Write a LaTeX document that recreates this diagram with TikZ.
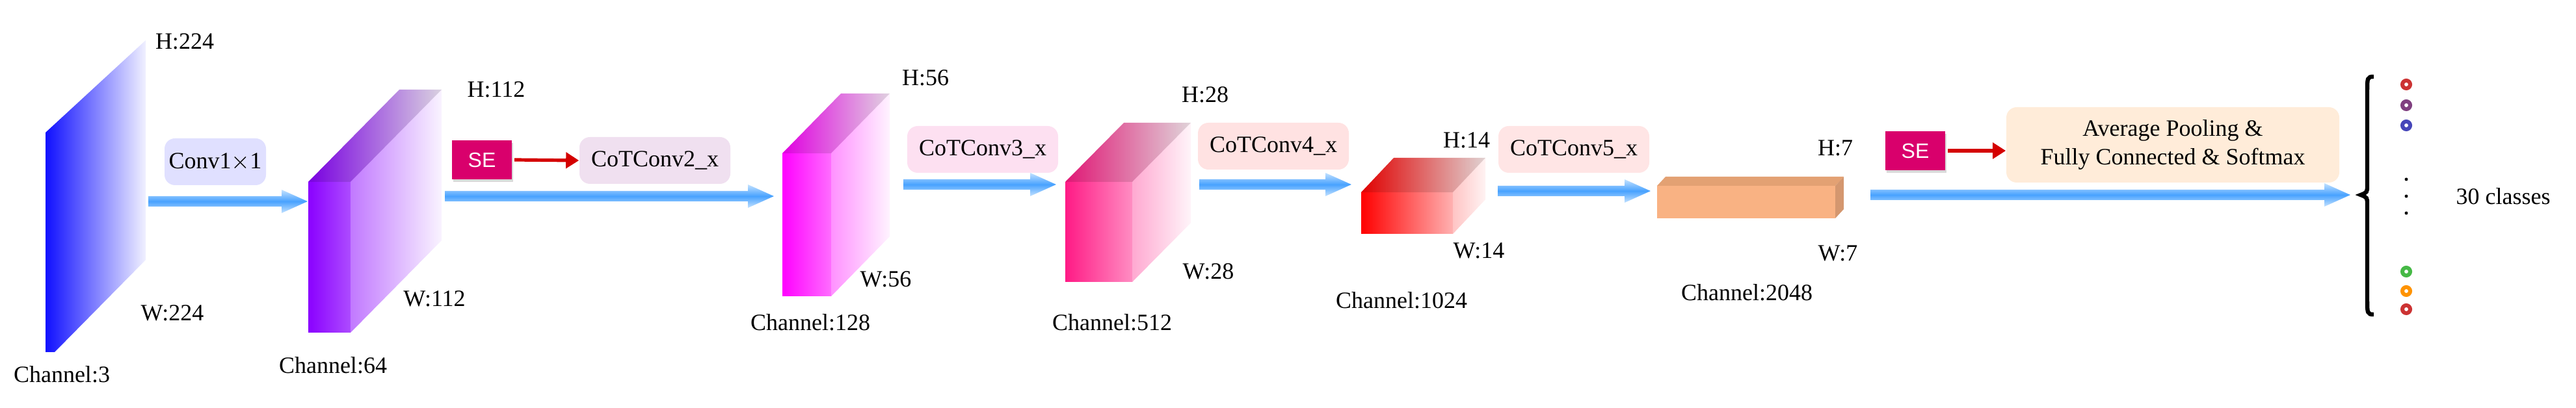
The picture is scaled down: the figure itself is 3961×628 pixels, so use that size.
\documentclass[tikz,border=0pt]{standalone}
\usepackage{fontspec}
\setmainfont{Liberation Serif}
\newfontfamily\myserif{Liberation Serif}
\newfontfamily\sefont{Liberation Sans}
\usetikzlibrary{calc,shadows,arrows.meta}
\definecolor{cblue}{HTML}{1010FF}
\definecolor{cpurple}{HTML}{8A00FF}
\definecolor{cmag}{HTML}{FF00FF}
\definecolor{cpink}{HTML}{FF1A85}
\definecolor{cred}{HTML}{FF0000}
\definecolor{corange}{HTML}{F9B283}
\definecolor{corangetop}{HTML}{E3A173}
\definecolor{arrlight}{HTML}{C4E2FF}
\definecolor{arrmid}{HTML}{48A2FF}
\definecolor{sepink}{HTML}{D9006C}
\definecolor{redarr}{HTML}{D40000}
\newcommand{\mycuboid}[7]{%
  \shade[left color=#7, right color=#7!6!white] (#1,#2) -- ++(#5,-#6) -- ($(#3,#2)+(#5,-#6)$) -- ($(#3,#4)+(#5,-#6)$) -- (#3,#4) -- (#1,#4) -- cycle;
  \fill[black, opacity=0.12] (#1,#2) -- ++(#5,-#6) -- ($(#3,#2)+(#5,-#6)$) -- (#3,#2) -- cycle;
  \fill[white, opacity=0.25] (#3,#2) -- ++(#5,-#6) -- ($(#3,#4)+(#5,-#6)$) -- (#3,#4) -- cycle;
}
\newcommand{\bluearrow}[2]{%
  \shade[top color=arrlight, bottom color=arrlight, middle color=arrmid]
    ($(#1)+(0,-8)$) -- ($(#2)+(-40,-8)$) -- ($(#2)+(-40,-18)$) -- (#2) --
    ($(#2)+(-40,18)$) -- ($(#2)+(-40,8)$) -- ($(#1)+(0,8)$) -- cycle;
}
\tikzset{
  lbl/.style={font=\myserif\fontsize{9}{11}\selectfont, inner sep=0pt},
  opbox/.style={lbl, rounded corners=4pt, minimum height=18pt, align=center},
  sebox/.style={font=\sefont\fontsize{8}{10}\selectfont, text=white, fill=sepink, minimum width=23pt, minimum height=15pt, inner sep=0pt, drop shadow={opacity=0.3, shadow xshift=0.5pt, shadow yshift=-1pt}},
  redarrow/.style={draw=redarr, line width=1.3pt, -{Triangle[length=5pt,width=6pt]}},
}
\begin{document}
\begin{tikzpicture}[x=0.25pt,y=-0.25pt]
\useasboundingbox (0,0) rectangle (3961,628);
% blocks
\shade[left color=cblue, right color=cblue!6!white] (70,204) -- (224,62) -- (224,400) -- (84,542) -- (70,542) -- cycle;
\mycuboid{474}{280}{539}{512}{140}{142}{cpurple}
\mycuboid{1203}{236}{1278}{456}{90}{92}{cmag}
\mycuboid{1638}{280}{1741}{434}{90}{91}{cpink}
\mycuboid{2093}{296}{2234}{360}{50}{53}{cred}
\fill[corange] (2548,286) rectangle (2822,336);
\fill[corangetop] (2548,286) -- (2561,272) -- (2835,272) -- (2822,286) -- cycle;
\fill[corange!85!black] (2822,286) -- (2835,272) -- (2835,322) -- (2822,336) -- cycle;
% labels
\node[lbl] (h1) at (284,64) {H:224};
\node[lbl] (w1) at (265,482) {W:224};
\node[lbl] (c1) at (95,576) {Channel:3};
\node[lbl] (h2) at (763,138) {H:112};
\node[lbl] (w2) at (668,460) {W:112};
\node[lbl] (c2) at (512,562) {Channel:64};
\node[lbl] (h3) at (1423,120) {H:56};
\node[lbl] (w3) at (1362,430) {W:56};
\node[lbl] (c3) at (1246,496) {Channel:128};
\node[lbl] (h4) at (1853,146) {H:28};
\node[lbl] (w4) at (1858,418) {W:28};
\node[lbl] (c4) at (1710,496) {Channel:512};
\node[lbl] (h5) at (2255,216) {H:14};
\node[lbl] (w5) at (2274,386) {W:14};
\node[lbl] (c5) at (2155,462) {Channel:1024};
\node[lbl] (h6) at (2822,228) {H:7};
\node[lbl] (w6) at (2826,390) {W:7};
\node[lbl] (c6) at (2686,450) {Channel:2048};
% op boxes
\node[opbox, fill=blue!12, minimum width=39pt] (op1) at (331,249) {Conv1$\times$1};
\node[opbox, fill=violet!12, minimum width=58pt] (op2) at (1007,247) {CoTConv2\_x};
\node[opbox, fill=magenta!12, minimum width=58pt] (op3) at (1511,230) {CoTConv3\_x};
\node[opbox, fill=pink!45, minimum width=58pt] (op4) at (1958,225) {CoTConv4\_x};
\node[opbox, fill=red!10, minimum width=58pt] (op5) at (2420,230) {CoTConv5\_x};
\node[opbox, fill=orange!15, minimum width=128pt, minimum height=29pt] (op6) at (3341,223) {Average Pooling \&\\ Fully Connected \& Softmax};
\node[sebox] (se1) at (741,246) {SE};
\node[sebox] (se2) at (2945,232) {SE};
\draw[redarrow] (se1.east) ++(3,0) coordinate (r1a) -- (op2.west);
\draw[redarrow] (se2.east) ++(3,0) coordinate (r2a) -- (op6.west |- se2.east);
% blue arrows
\coordinate (a1s) at (228,310); \coordinate (a1e) at (473,310);
\coordinate (a2s) at (684,302); \coordinate (a2e) at (1190,302);
\coordinate (a3s) at (1389,284); \coordinate (a3e) at (1624,284);
\coordinate (a4s) at (1844,284); \coordinate (a4e) at (2078,284);
\coordinate (a5s) at (2303,294); \coordinate (a5e) at (2538,294);
\coordinate (a6s) at (2876,300); \coordinate (a6e) at (3614,300);
\bluearrow{a1s}{a1e}
\bluearrow{a2s}{a2e}
\bluearrow{a3s}{a3e}
\bluearrow{a4s}{a4e}
\bluearrow{a5s}{a5e}
\bluearrow{a6s}{a6e}
% brace and outputs
\draw[line width=1.6pt] (3650,118) .. controls (3640,118) and (3640,120) .. (3640,140) -- (3640,285) .. controls (3640,296) .. (3630,300) .. controls (3640,304) .. (3640,315) -- (3640,462) .. controls (3640,482) and (3640,484) .. (3650,484);
\foreach \yy/\cc in {130/red!60!gray, 162/violet!50!gray, 193/blue!45!gray, 418/green!45!gray, 448/orange!85!yellow, 476/red!60!gray}
  \draw[\cc, line width=1.5pt] (3700,\yy) circle (6);
\foreach \yy in {276,302,328} \fill (3700,\yy) circle (2.5);
\node[lbl] (cls) at (3849,302) {30 classes};
\end{tikzpicture}
\end{document}
